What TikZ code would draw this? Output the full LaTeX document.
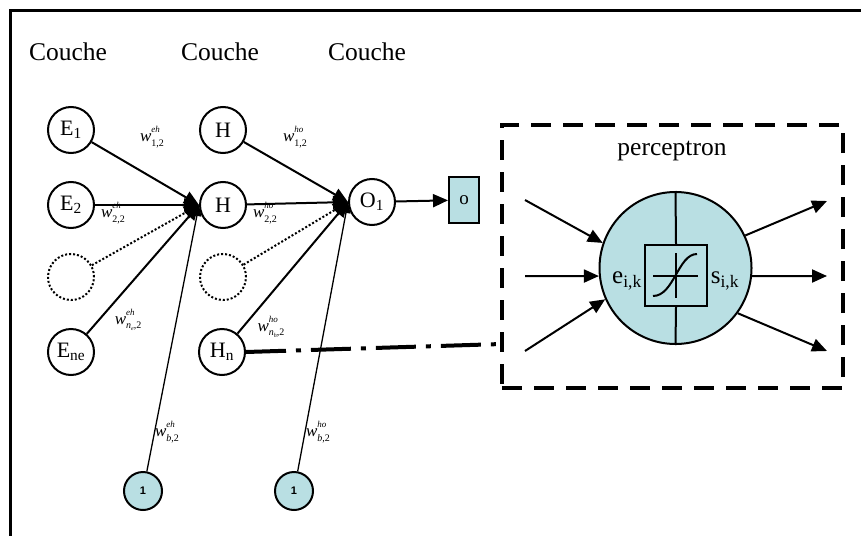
\documentclass[tikz,border=0pt]{standalone}
\usepackage{fontspec}
\setmainfont{Liberation Serif}
\setsansfont{Liberation Sans}
\usetikzlibrary{arrows.meta}
\definecolor{cyanfill}{RGB}{185,223,227}
\newcommand{\wlab}[2]{\textit{w}\rlap{\raisebox{0.55em}{\fontsize{9}{9}\selectfont\textit{#1}}}\raisebox{-0.25em}{\fontsize{10}{10}\selectfont #2}}
\begin{document}
\begin{tikzpicture}[x=1pt,y=-1pt,
  neuron/.style={circle,draw,line width=2pt,minimum size=46pt,inner sep=0pt,font=\fontsize{22}{24}\selectfont},
  ghost/.style={circle,draw,dotted,line width=2pt,minimum size=46pt,inner sep=0pt},
  bias/.style={circle,draw,line width=2pt,fill=cyanfill,minimum size=38pt,inner sep=0pt,font=\sffamily\bfseries\fontsize{11}{11}\selectfont},
  conn/.style={line width=2pt,-{Triangle[length=15pt,width=13pt]}},
  dconn/.style={line width=2pt,dotted,-{Triangle[length=15pt,width=13pt]}},
  bconn/.style={line width=1.3pt,-{Triangle[length=11pt,width=9pt]}},
  wlabel/.style={font=\fontsize{17}{18}\selectfont,inner sep=0pt},
  layer/.style={font=\fontsize{25.5}{27}\selectfont,anchor=base,inner sep=0pt}
]
\useasboundingbox (0,0) rectangle (861,535);
\draw[line width=3pt] (10.5,540) -- (10.5,11) -- (870,11);

% layer titles
\node[layer] (c1) at (68,60) {Couche};
\node[layer] (c2) at (220,60) {Couche};
\node[layer] (c3) at (367,60) {Couche};

% input layer
\node[neuron] (E1) at (71,130) {E\textsubscript{1}};
\node[neuron] (E2) at (71,205) {E\textsubscript{2}};
\node[ghost]  (E3) at (71,277) {};
\node[neuron] (En) at (71,352) {E\textsubscript{ne}};
% hidden layer
\node[neuron] (H1) at (223,130) {H};
\node[neuron] (H2) at (223,205) {H};
\node[ghost]  (H3) at (223,277) {};
\node[neuron] (Hn) at (222,352) {H\textsubscript{n}};
% output
\node[neuron] (O1) at (372,202) {O\textsubscript{1}};
\node[draw,line width=2pt,fill=cyanfill,minimum width=30pt,minimum height=46pt,inner sep=0pt,font=\fontsize{19}{19}\selectfont] (ob) at (464,200) {o};
% bias
\node[bias] (b1) at (143,491) {1};
\node[bias] (b2) at (294,491) {1};

% connections to H2
\draw[conn] (E1) -- (H2.west);
\draw[conn] (E2) -- (H2.west);
\draw[dconn] (E3) -- (H2.west);
\draw[conn] (En) -- (H2.west);
\draw[bconn] (b1) -- (H2.west);
% connections to O1
\draw[conn] (H1) -- (O1.west);
\draw[conn] (H2) -- (O1.west);
\draw[dconn] (H3) -- (O1.west);
\draw[conn] (Hn) -- (O1.west);
\draw[bconn] (b2) -- (O1.west);
\draw[conn] (O1) -- (ob);

% weight labels
\node[wlabel] (w1) at (152,137) {\wlab{eh}{1,2}};
\node[wlabel] (w2) at (113,213) {\wlab{eh}{2,2}};
\node[wlabel] (w3) at (128,320) {\wlab{eh}{\textit{n}\raisebox{-0.2em}{\fontsize{6}{6}\selectfont\textit{e}},2}};
\node[wlabel] (w4) at (167,432) {\wlab{eh}{\textit{b},2}};
\node[wlabel] (w5) at (295,137) {\wlab{ho}{1,2}};
\node[wlabel] (w6) at (265,213) {\wlab{ho}{2,2}};
\node[wlabel] (w7) at (271,327) {\wlab{ho}{\textit{n}\raisebox{-0.2em}{\fontsize{6}{6}\selectfont\textit{h}},2}};
\node[wlabel] (w8) at (318,432) {\wlab{ho}{\textit{b},2}};

% perceptron box
\node[draw,line width=4pt,dash pattern=on 20pt off 12pt,minimum width=341pt,minimum height=263pt,inner sep=0pt] (perc) at (672.5,256.5) {};
\node[layer] (ptitle) at (672,155) {perceptron};
\coordinate (pend) at (502,344);
\draw[line width=4pt,dash pattern=on 40pt off 10pt on 5pt off 10pt] (Hn.east) -- (pend);

\node[circle,draw,line width=2pt,fill=cyanfill,minimum size=152pt,inner sep=0pt] (P) at (675.5,268) {};
\node[draw,line width=2pt,fill=cyanfill,minimum width=62pt,minimum height=61pt,inner sep=0pt] (sig) at (676,275.5) {};
\draw[line width=2pt] (P.north) -- (sig.north);
\draw[line width=2pt] (sig.south) -- (P.south);
\coordinate (ax1) at (653,275.5);
\coordinate (ax2) at (698,275.5);
\coordinate (ay1) at (676,253);
\coordinate (ay2) at (676,298);
\draw[line width=2pt] (ax1) -- (ax2);
\draw[line width=2pt] (ay1) -- (ay2);
\coordinate (s1) at (653,296);
\coordinate (s2) at (697,254);
\draw[line width=2pt] (s1) .. controls (674,296) and (678,254) .. (s2);
\node[font=\fontsize{25}{25}\selectfont,inner sep=0pt] (ein) at (627,281) {e\textsubscript{i,k}};
\node[font=\fontsize{25}{25}\selectfont,inner sep=0pt] (sout) at (725,281) {s\textsubscript{i,k}};

\coordinate (i1) at (525,200);
\coordinate (i2) at (525,276);
\coordinate (i3) at (525,351);
\draw[conn] (i1) -- (P.161);
\draw[conn] (i2) -- (P.186);
\draw[conn] (i3) -- (P.204);
\coordinate (o1) at (827,201);
\coordinate (o2) at (827,276);
\coordinate (o3) at (827,351);
\draw[conn] (P.25) -- (o1);
\draw[conn] (P.-6) -- (o2);
\draw[conn] (P.-36) -- (o3);
\end{tikzpicture}
\end{document}
